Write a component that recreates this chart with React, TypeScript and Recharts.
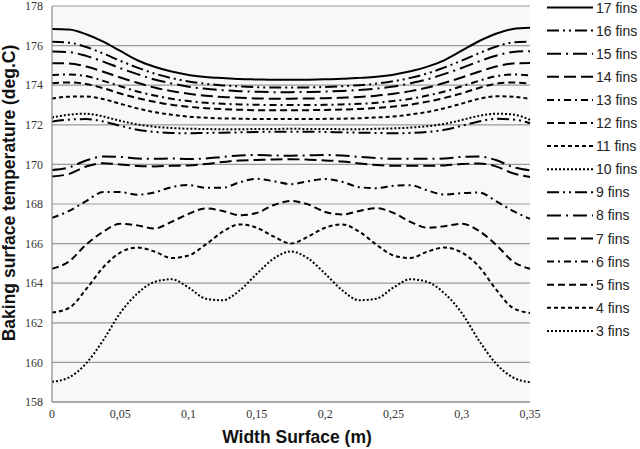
import React from 'react';
import { LineChart, Line, XAxis, YAxis, CartesianGrid, Label } from 'recharts';

const widths = [0, 0.0125, 0.025, 0.0375, 0.05, 0.0625, 0.075, 0.0875, 0.1, 0.1125, 0.125, 0.1375, 0.15, 0.1625, 0.175, 0.1875, 0.2, 0.2125, 0.225, 0.2375, 0.25, 0.2625, 0.275, 0.2875, 0.3, 0.3125, 0.325, 0.3375, 0.35];

const fins17 = [176.84, 176.81, 176.57, 176.2, 175.73, 175.26, 174.93, 174.69, 174.52, 174.42, 174.36, 174.31, 174.29, 174.27, 174.27, 174.28, 174.3, 174.32, 174.37, 174.43, 174.53, 174.7, 174.94, 175.27, 175.74, 176.22, 176.6, 176.84, 176.9];
const fins16 = [176.19, 176.15, 175.93, 175.6, 175.23, 174.89, 174.59, 174.36, 174.19, 174.07, 173.99, 173.94, 173.9, 173.88, 173.88, 173.89, 173.91, 173.95, 174.0, 174.08, 174.2, 174.37, 174.6, 174.9, 175.24, 175.61, 175.94, 176.16, 176.2];
const fins15 = [175.7, 175.67, 175.48, 175.19, 174.86, 174.56, 174.29, 174.09, 173.92, 173.82, 173.75, 173.7, 173.67, 173.65, 173.65, 173.66, 173.68, 173.71, 173.76, 173.83, 173.93, 174.1, 174.3, 174.57, 174.87, 175.2, 175.49, 175.68, 175.72];
const fins14 = [175.11, 175.1, 174.94, 174.68, 174.39, 174.12, 173.88, 173.7, 173.57, 173.47, 173.4, 173.37, 173.33, 173.32, 173.32, 173.33, 173.34, 173.37, 173.41, 173.47, 173.57, 173.7, 173.88, 174.12, 174.39, 174.68, 174.94, 175.1, 175.12];
const fins13 = [174.51, 174.54, 174.46, 174.22, 173.95, 173.68, 173.48, 173.31, 173.2, 173.11, 173.06, 173.03, 173.01, 173.0, 173.0, 173.0, 173.01, 173.03, 173.06, 173.11, 173.2, 173.31, 173.48, 173.68, 173.95, 174.22, 174.46, 174.54, 174.5];
const fins12 = [174.1, 174.14, 174.06, 173.85, 173.58, 173.35, 173.16, 173.01, 172.91, 172.84, 172.79, 172.76, 172.74, 172.74, 172.74, 172.74, 172.75, 172.77, 172.8, 172.85, 172.92, 173.02, 173.17, 173.36, 173.59, 173.86, 174.07, 174.14, 174.08];
const fins11 = [173.33, 173.42, 173.43, 173.3, 173.06, 172.83, 172.64, 172.51, 172.41, 172.36, 172.32, 172.31, 172.29, 172.29, 172.29, 172.29, 172.3, 172.31, 172.33, 172.37, 172.42, 172.52, 172.65, 172.84, 173.07, 173.31, 173.44, 173.42, 173.3];
const fins10 = [172.37, 172.51, 172.56, 172.42, 172.2, 172.02, 171.9, 171.84, 171.8, 171.79, 171.77, 171.77, 171.79, 171.79, 171.8, 171.79, 171.79, 171.78, 171.78, 171.8, 171.82, 171.86, 171.93, 172.05, 172.24, 172.45, 172.56, 172.52, 172.25];
const fins9 = [172.16, 172.26, 172.29, 172.17, 171.95, 171.75, 171.64, 171.59, 171.57, 171.59, 171.6, 171.62, 171.64, 171.65, 171.65, 171.65, 171.64, 171.62, 171.6, 171.59, 171.57, 171.59, 171.64, 171.75, 171.95, 172.17, 172.3, 172.27, 172.08];
const fins8 = [169.72, 169.85, 170.2, 170.4, 170.38, 170.3, 170.28, 170.3, 170.27, 170.3, 170.38, 170.45, 170.48, 170.45, 170.44, 170.46, 170.48, 170.45, 170.38, 170.32, 170.28, 170.28, 170.28, 170.3, 170.38, 170.4, 170.22, 169.87, 169.7];
const fins7 = [169.39, 169.52, 169.89, 170.06, 170.0, 169.92, 169.9, 169.93, 169.95, 170.02, 170.12, 170.2, 170.22, 170.25, 170.26, 170.24, 170.2, 170.15, 170.05, 169.97, 169.93, 169.93, 169.93, 169.95, 170.02, 170.05, 169.9, 169.55, 169.36];
const fins6 = [167.3, 167.65, 168.15, 168.6, 168.6, 168.47, 168.58, 168.85, 168.96, 168.82, 168.82, 169.1, 169.27, 169.15, 169.0, 169.15, 169.26, 169.12, 168.85, 168.8, 168.92, 168.95, 168.68, 168.48, 168.55, 168.58, 168.15, 167.65, 167.25];
const fins5 = [164.73, 165.1, 165.95, 166.6, 167.0, 166.92, 166.76, 167.1, 167.5, 167.78, 167.65, 167.43, 167.55, 167.95, 168.15, 167.98, 167.6, 167.47, 167.65, 167.79, 167.55, 167.1, 166.8, 166.88, 167.0, 166.65, 165.95, 165.1, 164.73];
const fins4 = [162.52, 162.75, 163.7, 164.8, 165.55, 165.8, 165.6, 165.27, 165.4, 165.95, 166.6, 166.97, 166.8, 166.35, 166.0, 166.35, 166.8, 166.97, 166.6, 165.95, 165.4, 165.27, 165.6, 165.8, 165.55, 164.85, 163.7, 162.75, 162.5];
const fins3 = [159.02, 159.24, 159.95, 161.12, 162.5, 163.48, 164.06, 164.2, 163.78, 163.22, 163.14, 163.64, 164.48, 165.25, 165.6, 165.25, 164.48, 163.64, 163.14, 163.22, 163.78, 164.2, 164.06, 163.48, 162.5, 161.12, 159.95, 159.24, 159.0];

const seriesNames = ['17 fins', '16 fins', '15 fins', '14 fins', '13 fins', '12 fins', '11 fins', '10 fins', '9 fins', '8 fins', '7 fins', '6 fins', '5 fins', '4 fins', '3 fins'];
const seriesValues = [fins17, fins16, fins15, fins14, fins13, fins12, fins11, fins10, fins9, fins8, fins7, fins6, fins5, fins4, fins3];

const SOLID = undefined;
const DASH_DOT_DOT = '12 4 2 4 2 4';
const DASH_DOT = '14 5 2 5';
const LONG_DASH = '12 5';
const SHORT_DASH_DOT = '7 4 2 4';
const DASH = '7 4';
const SHORT_DASH = '4 3';
const DOTTED = '2 2';
const seriesDashes = [SOLID, DASH_DOT_DOT, DASH_DOT, LONG_DASH, SHORT_DASH_DOT, DASH, SHORT_DASH, DOTTED, DASH_DOT_DOT, DASH_DOT, LONG_DASH, SHORT_DASH_DOT, DASH, SHORT_DASH, DOTTED];

const xTicks = [0, 0.05, 0.1, 0.15, 0.2, 0.25, 0.3, 0.35];
const xTickLabels = ['0', '0,05', '0,1', '0,15', '0,2', '0,25', '0,3', '0,35'];
const yTicks = [158, 160, 162, 164, 166, 168, 170, 172, 174, 176, 178];

const xTitle = 'Width Surface (m)';
const yTitle = 'Baking surface temperature (deg.C)';

const data = widths.map((x, i) => {
  const row: Record<string, number> = { x };
  seriesValues.forEach((vals, k) => {
    row['s' + k] = vals[i];
  });
  return row;
});

const SERIF = '"Liberation Serif", "Times New Roman", serif';
const SANS = '"Liberation Sans", Arial, sans-serif';

const titleStyle = { fontFamily: SANS, fontWeight: 700, fontSize: 17.5, fill: '#111' };

const XTick = (props: any) => {
  const { x, y, payload, index } = props;
  const label = xTickLabels[index] ?? String(payload.value);
  return (
    <text x={x} y={y} dy="0.71em" textAnchor="middle" fontFamily={SERIF} fontSize={12} fill="#333">
      {label}
    </text>
  );
};

const YTick = (props: any) => {
  const { x, y, payload } = props;
  return (
    <text x={x} y={y} dy="0.355em" textAnchor="end" fontFamily={SERIF} fontSize={12} fill="#333">
      {payload.value}
    </text>
  );
};

const XTitle = (props: any) => {
  const vb = props.viewBox || {};
  const cx = vb.x + vb.width / 2 + 6;
  return (
    <text x={cx} y={vb.y + 41} textAnchor="middle" style={titleStyle}>
      {xTitle}
    </text>
  );
};

const YTitle = (props: any) => {
  const vb = props.viewBox || {};
  const cy = vb.y + vb.height / 2 - 11;
  const x = vb.x + 15;
  return (
    <text x={x} y={cy} textAnchor="middle" transform={`rotate(-90, ${x}, ${cy})`} style={titleStyle}>
      {yTitle}
    </text>
  );
};

const LegendOverlay = () => (
  <svg width={640} height={449} style={{ position: 'absolute', left: 0, top: 0, pointerEvents: 'none' }}>
    {seriesNames.map((name, i) => {
      const cy = 7.5 + 23.1 * i;
      return (
        <g key={name}>
          <line x1={547} x2={593} y1={cy} y2={cy} stroke="#000" strokeWidth={2} strokeDasharray={seriesDashes[i]} />
          <text x={596} y={cy + 5} style={{ fontFamily: SANS, fontSize: 14, fill: '#222' }}>
            {name}
          </text>
        </g>
      );
    })}
  </svg>
);

export default function App() {
  return (
    <div style={{ position: 'absolute', left: 0, top: 0, width: 640, height: 449, background: '#fff' }}>
      <LineChart width={640} height={449} data={data} margin={{ top: 6, right: 110, bottom: 0, left: 0 }}>
        <CartesianGrid vertical={false} stroke="#9a9a9a" strokeWidth={1.2} fill="#f8f8f8" fillOpacity={1} />
        <XAxis
          dataKey="x"
          type="number"
          domain={[0, 0.35]}
          ticks={xTicks}
          height={47}
          tickLine={false}
          tickSize={0}
          tickMargin={7}
          axisLine={{ stroke: '#8a8a8a', strokeWidth: 1.2 }}
          tick={<XTick />}
          interval={0}
        >
          <Label content={<XTitle />} />
        </XAxis>
        <YAxis
          type="number"
          domain={[158, 178]}
          ticks={yTicks}
          width={52}
          tickLine={false}
          tickSize={0}
          tickMargin={9}
          axisLine={{ stroke: '#8a8a8a', strokeWidth: 1.2 }}
          tick={<YTick />}
          interval={0}
        >
          <Label content={<YTitle />} />
        </YAxis>
        {seriesValues.map((_, k) => (
          <Line
            key={seriesNames[k]}
            type="monotone"
            dataKey={'s' + k}
            name={seriesNames[k]}
            stroke="#000"
            strokeWidth={2}
            strokeDasharray={seriesDashes[k]}
            dot={false}
            activeDot={false}
            isAnimationActive={false}
          />
        ))}
      </LineChart>
      <LegendOverlay />
    </div>
  );
}
